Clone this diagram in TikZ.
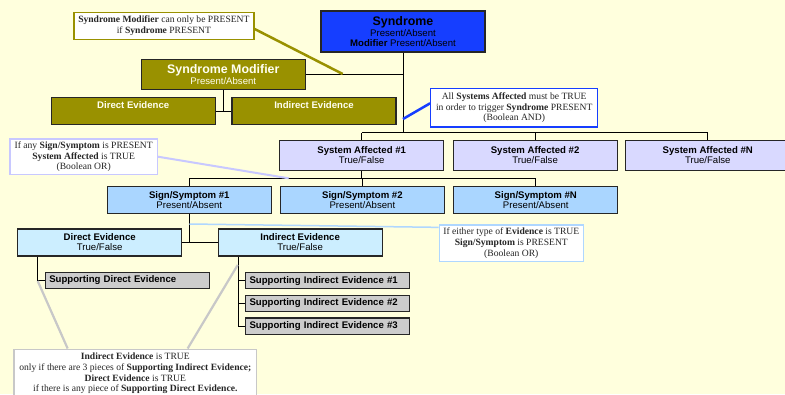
\documentclass[tikz,border=0pt]{standalone}
\usepackage{fontspec}
\setmainfont{Liberation Serif}
\setsansfont{Liberation Sans}
\usetikzlibrary{positioning}

\definecolor{paper}{RGB}{255,255,221}
\definecolor{synblue}{RGB}{22,62,255}
\definecolor{modolive}{RGB}{153,145,0}
\definecolor{sysfill}{RGB}{217,217,255}
\definecolor{sigfill}{RGB}{170,214,255}
\definecolor{evfill}{RGB}{204,238,255}
\definecolor{supfill}{RGB}{204,204,204}
\definecolor{orline}{RGB}{200,200,255}
\definecolor{evline}{RGB}{175,215,255}
\definecolor{noteline}{RGB}{200,200,200}

\tikzset{
  box/.style={draw=black!85, line width=1.1pt, font=\sffamily\fontsize{9.6}{10}\selectfont,
    align=center, inner sep=1pt, minimum width=164pt},
  sysbox/.style={box, fill=sysfill, minimum height=29.6pt},
  sigbox/.style={box, fill=sigfill, minimum height=27.3pt},
  evbox/.style={box, fill=evfill, minimum height=27pt},
  supbox/.style={box, fill=supfill, minimum height=16.4pt, text width=156pt, align=left, inner xsep=4pt},
  modbox/.style={box, fill=modolive, text=paper!40!white},
  modsub/.style={modbox, minimum height=26.6pt, text height=7pt, text depth=12pt,
    font=\sffamily\bfseries\fontsize{9.6}{10}\selectfont},
  note/.style={fill=white, line width=1.2pt, text=black!85, font=\fontsize{9.6}{10.8}\selectfont,
    align=center, inner sep=1pt},
  link/.style={black, line width=0.8pt},
}

\begin{document}
\begin{tikzpicture}[x=1pt, y=-1pt]
  \useasboundingbox (0,0) rectangle (785,394);
  \fill[paper] (0,0) rectangle (785,394);
  \clip (0,0) rectangle (785,394);

  % syndrome and its modifier
  \node[box, fill=synblue, minimum height=41pt] (syn) at (403,31.5)
    {{\bfseries\fontsize{12.4}{13}\selectfont Syndrome}\\[1.5pt]Present/Absent\\\textbf{Modifier} Present/Absent};
  \node[modbox, minimum height=30pt] (mod) at (223.3,74.3)
    {{\bfseries\fontsize{12.4}{13}\selectfont Syndrome Modifier}\\[1pt]Present/Absent};
  \node[modsub] (modde) at (133.2,111) {Direct Evidence};
  \node[modsub, right=15.7pt of modde] (modie) {Indirect Evidence};

  % systems affected
  \node[sysbox] (sa1) at (361.7,155.5) {\textbf{System Affected \#1}\\True/False};
  \node[sysbox, right=8.3pt of sa1] (sa2) {\textbf{System Affected \#2}\\True/False};
  \node[sysbox, right=7.6pt of sa2] (san) {\textbf{System Affected \#N}\\True/False};

  % signs and symptoms
  \node[sigbox] (ss1) at (189.3,199.7) {\textbf{Sign/Symptom \#1}\\Present/Absent};
  \node[sigbox, right=8pt of ss1] (ss2) {\textbf{Sign/Symptom \#2}\\Present/Absent};
  \node[sigbox, right=8.3pt of ss2] (ssn) {\textbf{Sign/Symptom \#N}\\Present/Absent};

  % evidence
  \node[evbox] (de) at (99.7,242.5) {\textbf{Direct Evidence}\\True/False};
  \node[evbox, right=35.3pt of de] (ie) {\textbf{Indirect Evidence}\\True/False};
  \node[supbox] (sde) at (127.3,280.5) {\textbf{Supporting Direct Evidence}};
  \node[supbox] (sie1) at (327.5,280.6) {\textbf{Supporting Indirect Evidence \#1}};
  \node[supbox, below=5.3pt of sie1] (sie2) {\textbf{Supporting Indirect Evidence \#2}};
  \node[supbox, below=5.3pt of sie2] (sie3) {\textbf{Supporting Indirect Evidence \#3}};

  % notes
  \node[note, draw=modolive, line width=1.5pt, minimum width=180pt, minimum height=26.6pt] (cmod) at (163.9,26)
    {\textbf{Syndrome Modifier} can only be PRESENT\\if \textbf{Syndrome} PRESENT};
  \node[note, draw=synblue, minimum width=167pt, minimum height=38.7pt] (csa) at (514.2,107.7)
    {All \textbf{Systems Affected} must be TRUE\\in order to trigger \textbf{Syndrome} PRESENT\\(Boolean AND)};
  \node[note, draw=orline, minimum width=147.3pt, minimum height=35.3pt] (cor) at (83.7,156.7)
    {If any \textbf{Sign/Symptom} is PRESENT\\\textbf{System Affected} is TRUE\\(Boolean OR)};
  \node[note, draw=evline, minimum width=144pt, minimum height=36.7pt] (cev) at (511.3,243.3)
    {If either type of \textbf{Evidence} is TRUE\\\textbf{Sign/Symptom} is PRESENT\\(Boolean OR)};
  \node[note, draw=noteline, anchor=north, minimum width=242.7pt, minimum height=49pt,
    font=\fontsize{9.6}{10.6}\selectfont] (cind) at (135.3,348.5)
    {\textbf{Indirect Evidence} is TRUE\\only if there are 3 pieces of \textbf{Supporting Indirect Evidence;}\\
     \textbf{Direct Evidence} is TRUE\\if there is any piece of \textbf{Supporting Direct Evidence.}};

  % tree connectors
  \coordinate (sysbus) at (403,132.7);
  \coordinate (sigbus) at (361.7,178.3);
  \coordinate (detrunk) at ([xshift=-62pt]de.south);
  \coordinate (ietrunk) at ([xshift=-61.8pt]ie.south);
  \draw[link] (syn.south) -- (sysbus);
  \draw[link] (mod.east) -- (mod.east -| syn.south);
  \draw[link] (mod.south) -- (mod.south |- modde.east);
  \draw[link] (modde.east) -- (modie.west);
  \draw[link] (sa1.north |- sysbus) -- (san.north |- sysbus);
  \foreach \n in {sa1,sa2,san} \draw[link] (\n.north) -- (\n.north |- sysbus);
  \draw[link] (sa1.south) -- (sigbus);
  \draw[link] (ss1.north |- sigbus) -- (ssn.north |- sigbus);
  \foreach \n in {ss1,ss2,ssn} \draw[link] (\n.north) -- (\n.north |- sigbus);
  \draw[link] (ss1.south) -- (ss1.south |- de.east);
  \draw[link] (de.east) -- (ie.west);
  \draw[link] (detrunk) |- (sde.west);
  \draw[link] (ietrunk) |- (sie3.west);
  \foreach \n in {sie1,sie2} \draw[link] (\n.west) -- (\n.west -| ietrunk);

  % note pointers
  \coordinate (modtap) at (342.7,74);
  \coordinate (andtap) at (403,119);
  \coordinate (ortap) at (288.7,178.3);
  \coordinate (evtap) at (189.3,224);
  \coordinate (dirtap) at (37.7,281);
  \coordinate (indtap) at (237.7,265);
  \draw[modolive, line width=2.5pt] ([yshift=-3pt]cmod.east) -- (modtap);
  \draw[synblue, line width=2.5pt] ([yshift=4.4pt]csa.west) -- (andtap);
  \draw[orline, line width=2pt] (cor.east) -- (ortap);
  \draw[evline, line width=1.5pt] ([yshift=-3pt]cev.north west) -- (evtap);
  \draw[noteline, line width=2.2pt] ([xshift=54.3pt]cind.north west) -- (dirtap);
  \draw[noteline, line width=2.2pt] ([xshift=174.3pt]cind.north west) -- (indtap);
\end{tikzpicture}
\end{document}
